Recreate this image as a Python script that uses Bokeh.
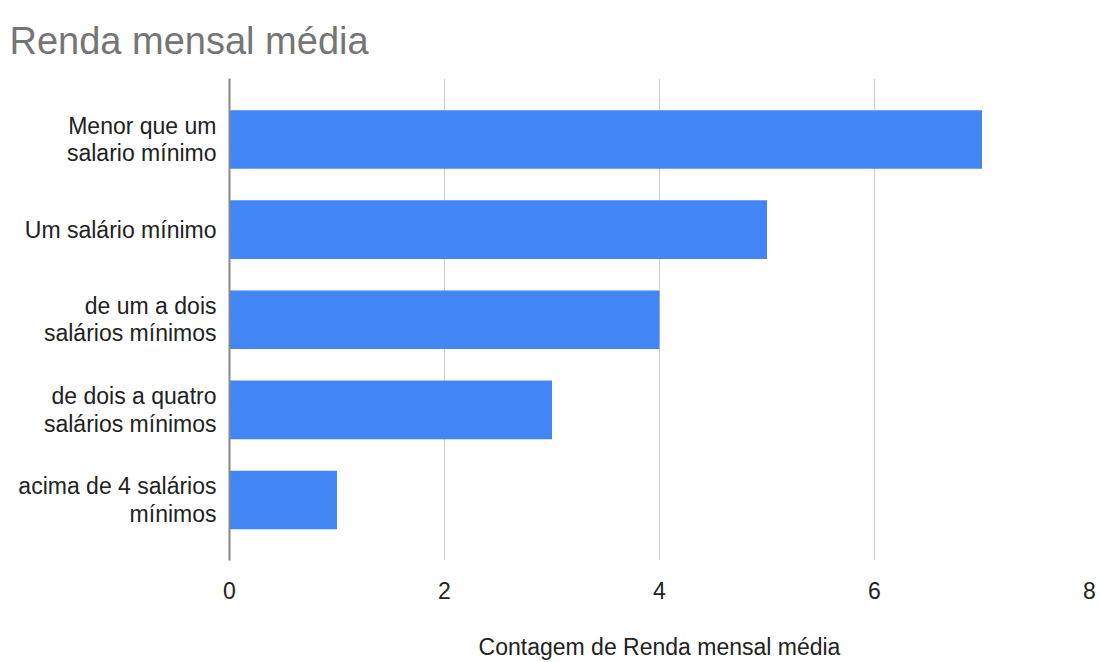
from bokeh.plotting import figure
from bokeh.models import Range1d, FixedTicker, Title
from bokeh.embed import file_html
from bokeh.resources import INLINE

categories = ["Menor que um\nsalario mínimo", "Um salário mínimo",
              "de um a dois\nsalários mínimos", "de dois a quatro\nsalários mínimos",
              "acima de 4 salários\nmínimos"]
counts = [7, 5, 4, 3, 1]
x_ticks = [0, 2, 4, 6, 8]

FONT = "Liberation Sans"
pos = list(range(len(categories)))

p = figure(width=1100, height=662, output_backend="svg", toolbar_location=None,
           x_range=Range1d(0, 8), y_range=Range1d(4.671, -0.677),
           min_border_left=229, min_border_right=11, min_border_top=78, min_border_bottom=94)
p.title = None
p.add_layout(Title(text="Renda mensal média", text_font=FONT, text_font_size="38px",
                   text_color="#757575", text_font_style="normal", align="left",
                   offset=-220, standoff=34), "above")

p.hbar(y=pos, right=counts, left=0, height=0.65, color="#4285F4", line_color=None)

p.outline_line_color = None
p.ygrid.grid_line_color = None
p.xgrid.ticker = FixedTicker(ticks=x_ticks)
p.xgrid.grid_line_color = "#cccccc"
p.xgrid.grid_line_width = 1

p.xaxis.ticker = FixedTicker(ticks=x_ticks)
p.xaxis.axis_line_color = None
p.xaxis.major_tick_line_color = None
p.xaxis.minor_tick_line_color = None
p.xaxis.major_label_text_font = FONT
p.xaxis.major_label_text_font_size = "23px"
p.xaxis.major_label_text_color = "#222222"
p.xaxis.major_label_standoff = 15
p.xaxis.axis_label = "Contagem de Renda mensal média"
p.xaxis.axis_label_text_font = FONT
p.xaxis.axis_label_text_font_size = "23px"
p.xaxis.axis_label_text_font_style = "normal"
p.xaxis.axis_label_text_color = "#222222"
p.xaxis.axis_label_standoff = 32

p.yaxis.ticker = FixedTicker(ticks=pos)
p.yaxis.major_label_overrides = {i: c for i, c in zip(pos, categories)}
p.yaxis.axis_line_color = "#888888"
p.yaxis.axis_line_width = 2
p.yaxis.major_tick_line_color = None
p.yaxis.minor_tick_line_color = None
p.yaxis.major_label_text_font = FONT
p.yaxis.major_label_text_font_size = "23px"
p.yaxis.major_label_text_color = "#222222"
p.yaxis.major_label_standoff = 7
p.yaxis.major_label_text_line_height = 1.05

open("out.html", "w").write(file_html(p, INLINE))
